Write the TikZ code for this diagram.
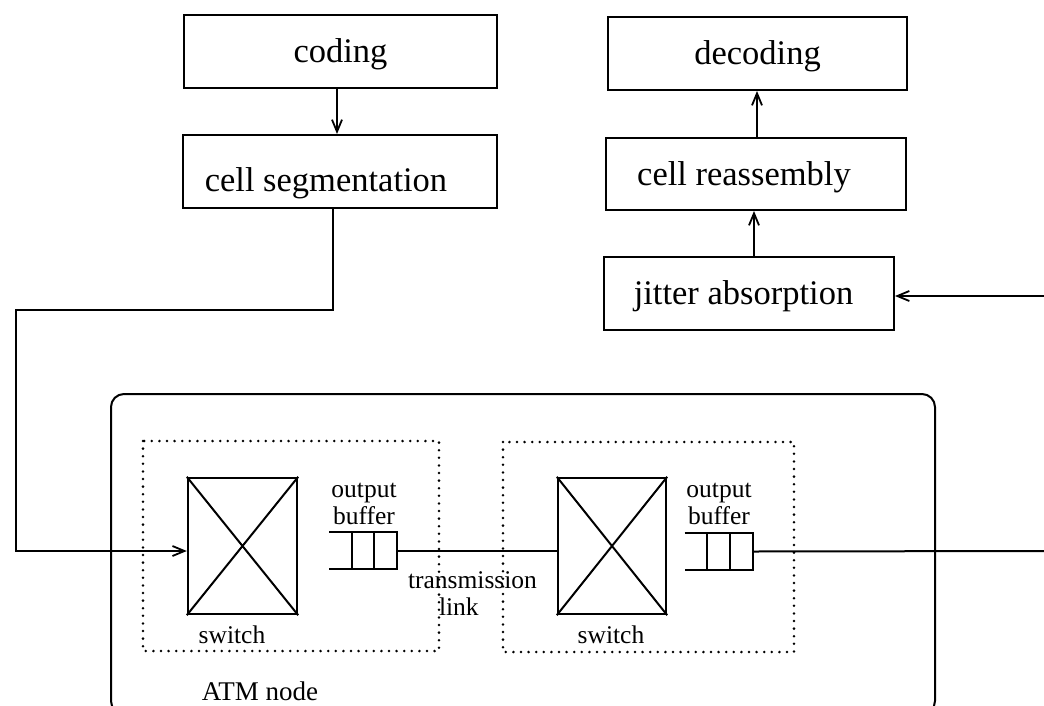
\documentclass[tikz,border=0pt]{standalone}
\usepackage{fontspec}
\setmainfont{Liberation Serif}
\usetikzlibrary{arrows.meta,calc}
\begin{document}
\begin{tikzpicture}[x=1pt,y=-1pt,
  line width=2pt,
  box/.style={draw, rectangle, minimum height=73pt, inner sep=0pt, text height=27pt, text depth=5pt, font=\fontsize{34.5}{38}\selectfont},
  arr/.style={-{Straight Barb[length=12pt,width=10pt,line width=1.8pt]}},
  lbl/.style={inner sep=0pt, font=\fontsize{25.5}{28}\selectfont},
  dotbox/.style={line width=2.8pt, dash pattern=on 0pt off 7.6pt, line cap=round},
  swbox/.style={draw, rectangle, line width=2.4pt, inner sep=0pt, minimum width=109pt, minimum height=136pt},
  bufbox/.style={rectangle, inner sep=0pt, minimum width=66pt, minimum height=35pt}]
\clip (0,0) rectangle (1044,705);

% upper boxes
\node[box, minimum width=313pt] (coding) at (340.5,51.5) {coding};
\node[box, minimum width=314pt, text height=40pt, text depth=0pt] (seg) at (340,171.5) {\hspace*{-28pt}cell segmentation};
\node[box, minimum width=299pt] (dec) at (757.5,53.5) {decoding};
\node[box, minimum width=300pt, minimum height=72pt] (reasm) at (756,174) {\hspace*{-24pt}cell reassembly};
\node[box, minimum width=290pt] (jit) at (749,293.5) {\hspace*{-11pt}jitter absorption};

\draw[arr] (coding.south -| 337,0) -- (seg.north -| 337,0);
\draw[arr] (reasm.north -| 757,0) -- (dec.south -| 757,0);
\draw[arr] (jit.north -| 754,0) -- (reasm.south -| 754,0);

\coordinate (inR) at (1044,296);
\draw[arr] (inR) -- (jit.east |- inR);

% ATM node frame
\draw[rounded corners=13pt] (111,394) rectangle (935,714);
\draw[dotbox] (143,441) rectangle (439,651);
\draw[dotbox] (503,442) rectangle (794,652);

% switches
\node[swbox] (sw1) at (242.5,546) {};
\draw (sw1.north west) -- (sw1.south east) (sw1.north east) -- (sw1.south west);
\node[swbox, minimum width=108pt] (sw2) at (612,546) {};
\draw (sw2.north west) -- (sw2.south east) (sw2.north east) -- (sw2.south west);

% buffers
\node[bufbox] (buf1) at (363,550.5) {};
\draw (buf1.north west) -- (buf1.north east) -- (buf1.south east) -- (buf1.south west);
\draw ($(buf1.north west)!1/3!(buf1.north east)$) -- ($(buf1.south west)!1/3!(buf1.south east)$);
\draw ($(buf1.north west)!2/3!(buf1.north east)$) -- ($(buf1.south west)!2/3!(buf1.south east)$);
\node[bufbox] (buf2) at (718.5,551.5) {};
\draw (buf2.north west) -- (buf2.north east) -- (buf2.south east) -- (buf2.south west);
\draw ($(buf2.north west)!1/3!(buf2.north east)$) -- ($(buf2.south west)!1/3!(buf2.south east)$);
\draw ($(buf2.north west)!2/3!(buf2.north east)$) -- ($(buf2.south west)!2/3!(buf2.south east)$);

% connectors
\draw[arr] (seg.south -| 333,0) -- (333,310) -| (16,551) -- (sw1.west |- 16,551);
\draw (buf1.east) -- (sw2.west |- buf1.east);
\coordinate (outR) at (1044,551);
\draw (buf2.east) -- (outR);

% labels
\node[lbl, anchor=base] (lo1) at (364,497) {output};
\node[lbl, anchor=base] (lb1) at (364,524) {buffer};
\node[lbl, anchor=base] (lo2) at (719,497) {output};
\node[lbl, anchor=base] (lb2) at (719,524) {buffer};
\node[lbl, anchor=base] (ls1) at (232,643) {switch};
\node[lbl, anchor=base] (ls2) at (611,643) {switch};
\node[lbl, anchor=base west] (lt) at (407,588) {transmission};
\node[lbl, anchor=base west] (ll) at (438,615) {link};
\node[lbl, anchor=base, font=\fontsize{27}{30}\selectfont] (latm) at (260,700) {ATM node};
\end{tikzpicture}
\end{document}
